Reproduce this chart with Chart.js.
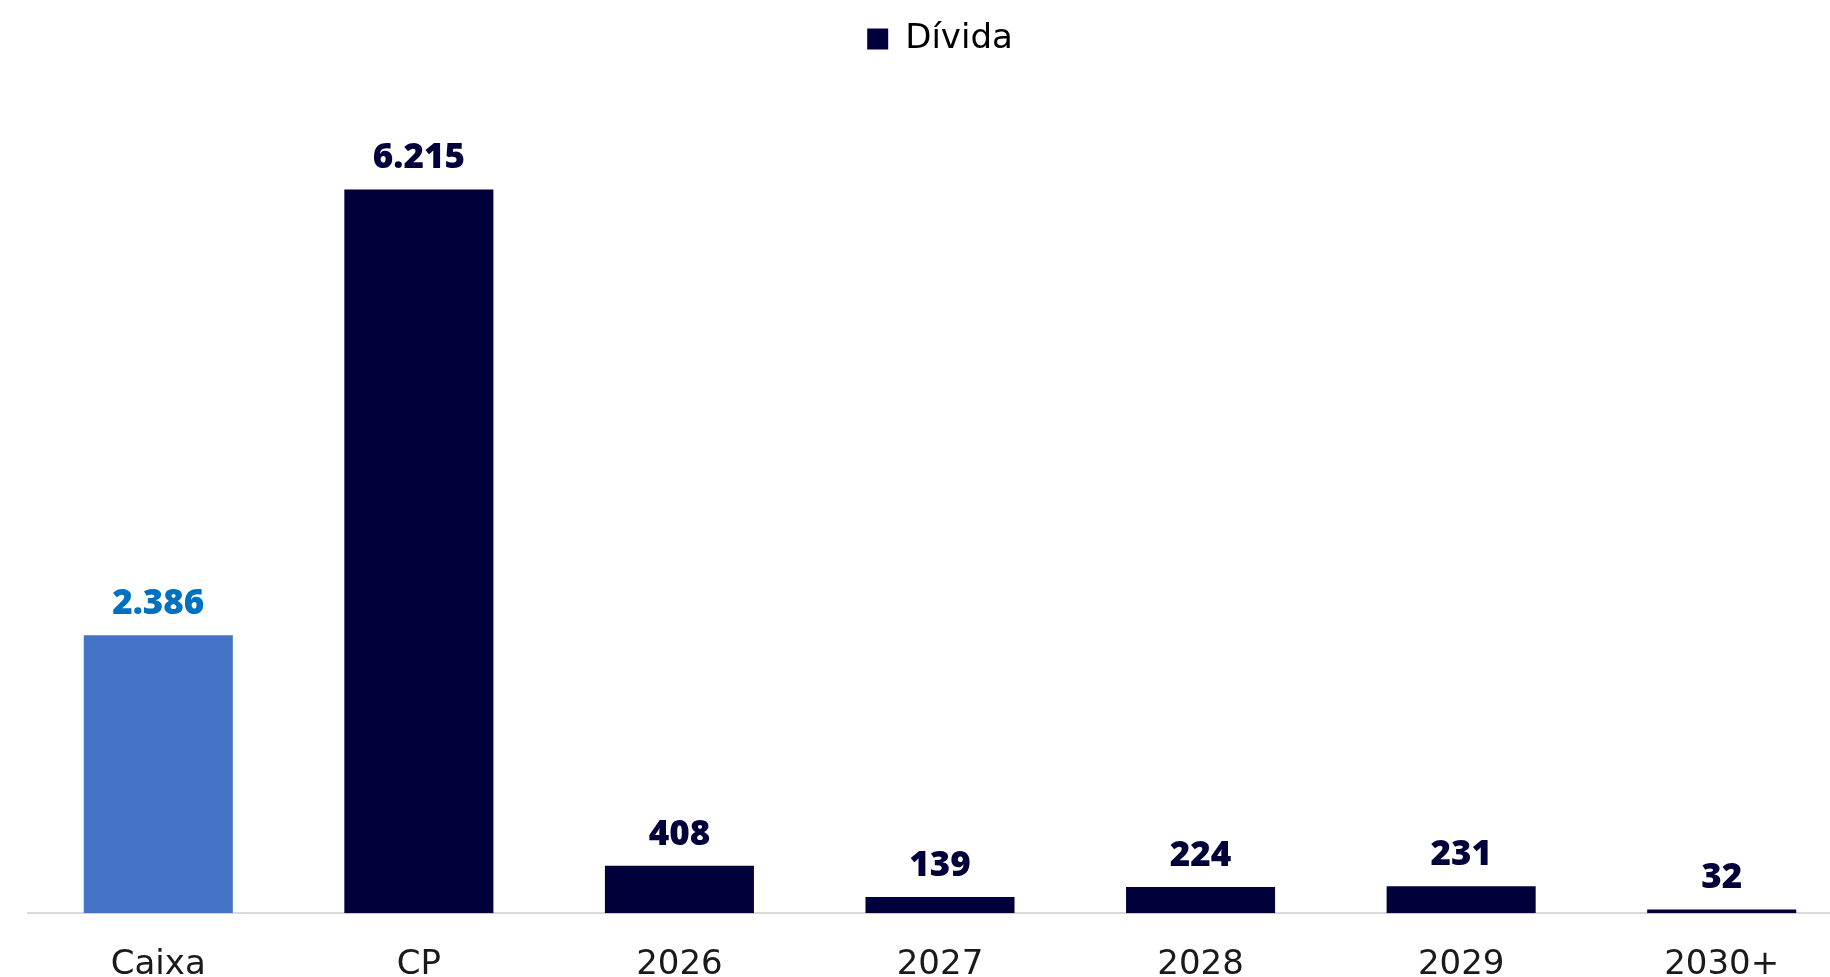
<!DOCTYPE html>
<html>
<head>
<meta charset="utf-8">
<script src="https://cdn.jsdelivr.net/npm/chart.js@4/dist/chart.umd.min.js"></script>
<style>
  html, body { margin: 0; padding: 0; background: #ffffff; overflow: hidden; width: 1830px; height: 977px; }
  #wrap { position: absolute; left: 0; top: 0; width: 1852px; height: 1018px; }
</style>
</head>
<body>
<div id="wrap"><canvas id="chart" width="1852" height="1018"></canvas></div>
<script>
// Debt maturity profile (R$ milhões)
const categories = ['Caixa', 'CP', '2026', '2027', '2028', '2029', '2030+'];
const divida = [2386, 6215, 408, 139, 224, 231, 32];
const seriesName = 'Dívida';
const Y_MAX = 7275;

const NAVY = '#00003A';
const CASH_BAR = '#4472C4';
const CASH_LABEL = '#0070C0';

const barColor = (i) => (i === 0 ? CASH_BAR : NAVY);
const labelColor = (i) => (i === 0 ? CASH_LABEL : NAVY);

// thousands separator in pt-BR style: 6215 -> "6.215"
const fmt = (v) => String(v).replace(/\B(?=(\d{3})+(?!\d))/g, '.');

const valueLabels = {
  id: 'valueLabels',
  afterDatasetsDraw(chart) {
    const ctx = chart.ctx;
    const meta = chart.getDatasetMeta(0);
    ctx.save();
    ctx.font = '800 35px "Open Sans"';
    ctx.textAlign = 'center';
    ctx.textBaseline = 'alphabetic';
    meta.data.forEach((bar, i) => {
      ctx.fillStyle = labelColor(i);
      ctx.fillText(fmt(divida[i]), bar.x, bar.y - 21);
    });
    ctx.restore();
  }
};

function draw() {
  new Chart(document.getElementById('chart'), {
    type: 'bar',
    data: {
      labels: categories,
      datasets: [{
        label: seriesName,
        data: divida,
        backgroundColor: divida.map((_, i) => barColor(i)),
        borderWidth: 0,
        barPercentage: 0.572,
        categoryPercentage: 1.0
      }]
    },
    options: {
      responsive: false,
      animation: false,
      devicePixelRatio: 1,
      layout: { padding: { left: 28, top: 12, right: 0, bottom: 0 } },
      plugins: {
        legend: {
          position: 'top',
          labels: {
            font: { family: 'DejaVu Sans', size: 34 },
            color: '#1a1a1a',
            boxWidth: 21,
            boxHeight: 21,
            padding: 10,
            generateLabels: () => [{
              text: seriesName,
              fillStyle: NAVY,
              strokeStyle: NAVY,
              lineWidth: 0,
              hidden: false,
              datasetIndex: 0
            }]
          }
        },
        tooltip: { enabled: false }
      },
      scales: {
        x: {
          grid: { display: false, drawTicks: false },
          border: { display: true, color: '#D9D9D9', width: 2 },
          ticks: {
            font: { family: 'DejaVu Sans', size: 34 },
            color: '#1a1a1a',
            padding: 32,
            maxRotation: 0,
            autoSkip: false
          }
        },
        y: { display: false, min: 0, max: Y_MAX }
      }
    },
    plugins: [valueLabels]
  });
}

Promise.all([
  document.fonts.load('800 35px "Open Sans"'),
  document.fonts.load('34px "DejaVu Sans"')
]).then(draw, draw);
</script>
</body>
</html>
